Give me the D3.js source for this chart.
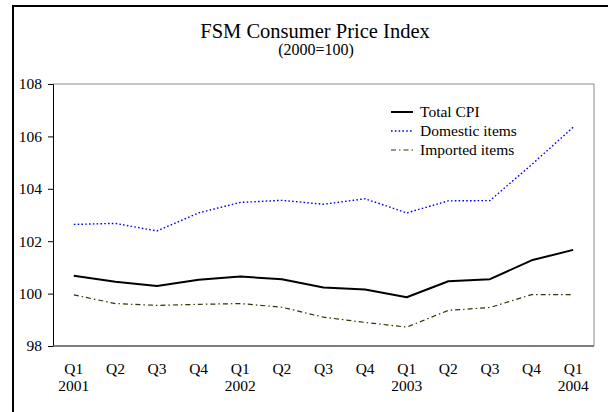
<!DOCTYPE html>
<html>
<head>
<meta charset="utf-8">
<script src="https://cdn.jsdelivr.net/npm/d3@7"></script>
<style>
  html, body { margin: 0; padding: 0; background: #fff; }
  svg { display: block; font-family: "Liberation Serif", "Times New Roman", serif; }
</style>
</head>
<body>
<div id="chart"></div>
<script>
// data
const quarters = ["Q1", "Q2", "Q3", "Q4", "Q1", "Q2", "Q3", "Q4", "Q1", "Q2", "Q3", "Q4", "Q1"];
const years    = ["2001", "", "", "", "2002", "", "", "", "2003", "", "", "", "2004"];
const totalCPI = [100.68, 100.45, 100.29, 100.53, 100.65, 100.55, 100.23, 100.16, 99.86, 100.47, 100.55, 101.27, 101.67];
const domestic = [102.64, 102.68, 102.39, 103.08, 103.48, 103.56, 103.41, 103.62, 103.08, 103.54, 103.55, 104.92, 106.35];
const imported = [99.95, 99.62, 99.55, 99.59, 99.62, 99.48, 99.10, 98.90, 98.72, 99.36, 99.47, 99.96, 99.96];
const yTicks   = [98, 100, 102, 104, 106, 108];

const series = [
  { name: "Total CPI",      values: totalCPI, color: "#000000", width: 2,   dash: null },
  { name: "Domestic items", values: domestic, color: "#0000ff", width: 1.4, dash: "1.6,2.2" },
  { name: "Imported items", values: imported, color: "#333300", width: 1.2, dash: "5,3,1.5,3" }
];

const W = 608, H = 412;
const m = { t: 84, r: 14, b: 66, l: 53 };

const svg = d3.select("#chart").append("svg").attr("width", W).attr("height", H);

// outer frame (only top + left visible in the source)
svg.append("line").attr("x1", 12).attr("x2", W).attr("y1", 6).attr("y2", 6)
  .attr("stroke", "#000").attr("stroke-width", 2);
svg.append("line").attr("x1", 13).attr("x2", 13).attr("y1", 5).attr("y2", H)
  .attr("stroke", "#000").attr("stroke-width", 2);

// title
svg.append("text").attr("x", 315).attr("y", 38).attr("text-anchor", "middle")
  .style("font-size", "20.5px").text("FSM Consumer Price Index");
svg.append("text").attr("x", 316).attr("y", 55).attr("text-anchor", "middle")
  .style("font-size", "16px").text("(2000=100)");

const idx = d3.range(quarters.length);
const x = d3.scaleBand().domain(idx).range([m.l, W - m.r]);
const cx = i => x(i) + x.bandwidth() / 2;
const y = d3.scaleLinear().domain([98, 108]).range([H - m.b, m.t]);

// plot frame: gray top/right
svg.append("path")
  .attr("d", `M${m.l},${m.t}H${W - m.r}V${H - m.b}`)
  .attr("fill", "none").attr("stroke", "#8c8c8c").attr("stroke-width", 1);

// y axis
const yAx = svg.append("g").attr("transform", `translate(${m.l},0)`)
  .call(d3.axisLeft(y).tickValues(yTicks).tickSize(5).tickPadding(6).tickFormat(d3.format("d")));
yAx.select(".domain").attr("stroke", "#000");
yAx.selectAll(".tick line").attr("stroke", "#000");
yAx.selectAll("text").style("font-family", "Liberation Serif").style("font-size", "15.5px").attr("fill", "#000");

// x axis line
svg.append("line").attr("x1", m.l).attr("x2", W - m.r)
  .attr("y1", H - m.b).attr("y2", H - m.b)
  .attr("stroke", "#555").attr("stroke-width", 1.6);

// x labels (two rows)
const xl = svg.append("g").selectAll("text").data(idx).join("text")
  .attr("text-anchor", "middle").style("font-size", "15.5px");
xl.append("tspan").attr("x", i => cx(i)).attr("y", 374).text(i => quarters[i]);
xl.append("tspan").attr("x", i => cx(i)).attr("y", 391).text(i => years[i]);

// lines
const line = d3.line().x((d, i) => cx(i)).y(d => y(d));
svg.append("g").selectAll("path").data(series).join("path")
  .attr("d", s => line(s.values))
  .attr("fill", "none")
  .attr("stroke", s => s.color)
  .attr("stroke-width", s => s.width)
  .attr("stroke-dasharray", s => s.dash)
  .attr("stroke-linejoin", "round");

// legend
const lg = svg.append("g").selectAll("g").data(series).join("g")
  .attr("transform", (s, i) => `translate(391,${112 + i * 19})`);
lg.append("line").attr("x1", 0).attr("x2", 22).attr("y1", 0).attr("y2", 0)
  .attr("stroke", s => s.color).attr("stroke-width", s => s.width)
  .attr("stroke-dasharray", s => s.dash);
lg.append("text").attr("x", 29).attr("y", 5).style("font-size", "15.5px").text(s => s.name);
</script>
</body>
</html>
